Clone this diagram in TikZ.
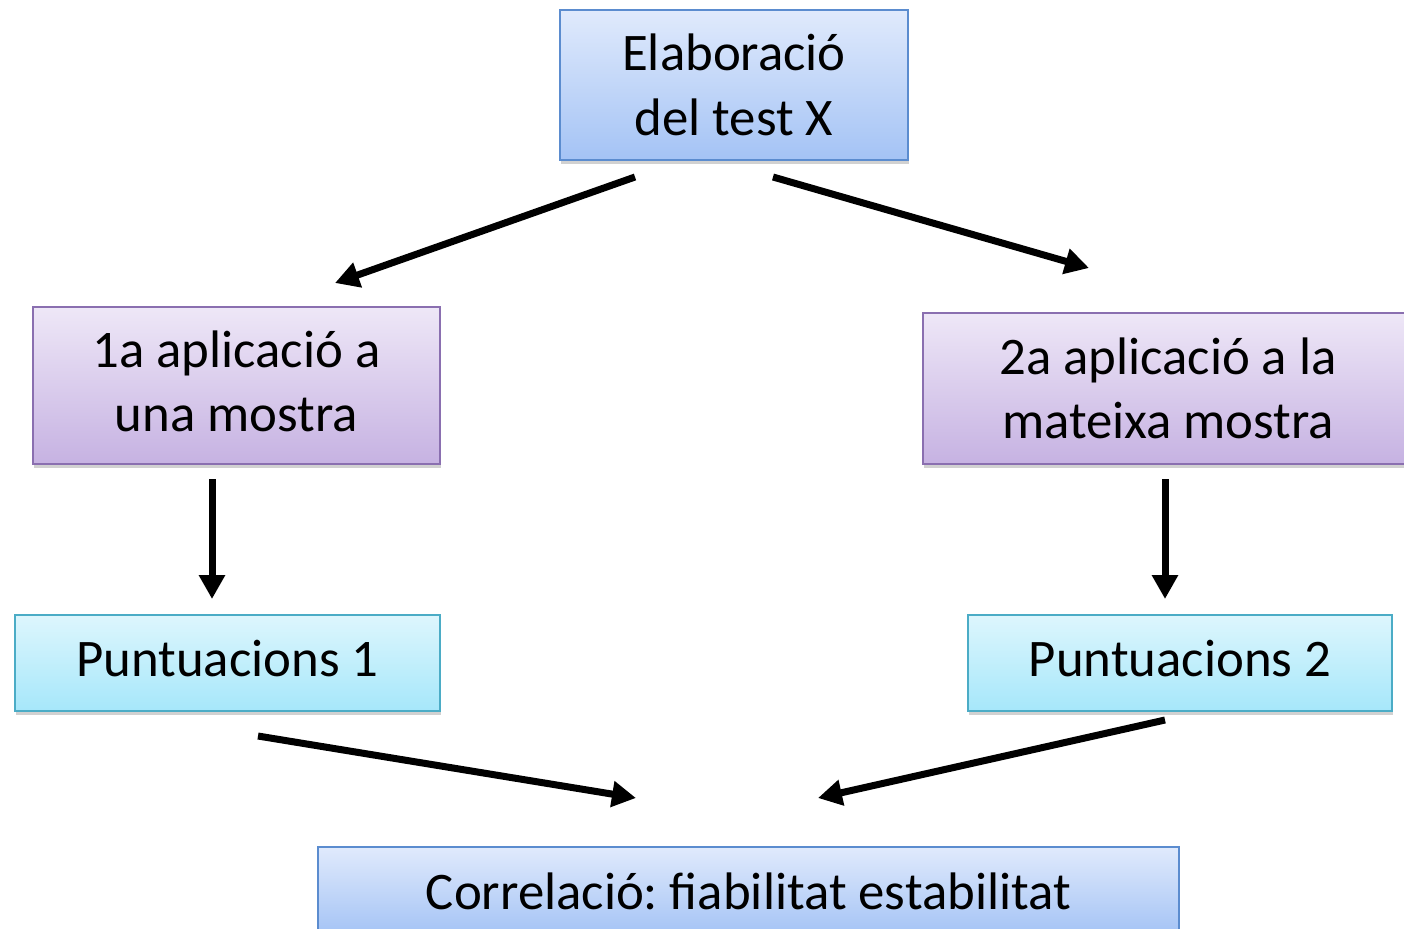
\documentclass[tikz,border=0pt]{standalone}
\usepackage{fontspec}
\setmainfont{Carlito}
\frenchspacing
\usetikzlibrary{arrows.meta,shadows}
\definecolor{bluetop}{HTML}{E0EAFC}
\definecolor{bluebot}{HTML}{A4C3F5}
\definecolor{blueline}{HTML}{5B8CCF}
\definecolor{purtop}{HTML}{EEE7F7}
\definecolor{purbot}{HTML}{C6B2E2}
\definecolor{purline}{HTML}{8A6FB0}
\definecolor{cyantop}{HTML}{DDF6FD}
\definecolor{cyanbot}{HTML}{A6E7FA}
\definecolor{cyanline}{HTML}{4BACC6}
\tikzset{
  box/.style={rectangle, inner sep=0pt, align=center, line width=0.8pt,
    font=\fontsize{26.4pt}{32.2pt}\selectfont,
    drop shadow={shadow xshift=0.5pt, shadow yshift=-2pt, fill=black!45, opacity=0.4}},
  bluebox/.style={box, draw=blueline, top color=bluetop, bottom color=bluebot},
  purbox/.style={box, draw=purline, top color=purtop, bottom color=purbot},
  cyanbox/.style={box, draw=cyanline, top color=cyantop, bottom color=cyanbot},
  raised/.style={text depth=4.5pt},
  arr/.style={line width=3.5pt, -{Triangle[length=12pt,width=12.5pt]}}
}
\begin{document}
\begin{tikzpicture}[x=0.5pt,y=-0.5pt]
\clip (0,0) rectangle (1404,928);
\fill[white] (0,0) rectangle (1404,928);
\node[bluebox, minimum width=174pt, minimum height=75pt] (top) at (734,85) {Elaboració\\del test X};
\node[purbox, raised, minimum width=203.5pt, minimum height=78.5pt] (app1) at (236.5,385.5) {1a aplicació a\\una mostra};
\node[purbox, minimum width=245pt, minimum height=75.5pt] (app2) at (1168,388.5) {2a aplicació a la\\mateixa mostra};
\node[cyanbox, raised, minimum width=212.5pt, minimum height=48pt] (p1) at (227.5,663) {Puntuacions 1};
\node[cyanbox, raised, minimum width=212pt, minimum height=48pt] (p2) at (1180,663) {Puntuacions 2};
\node[bluebox, minimum width=430.5pt, minimum height=44pt] (corr) at (748.5,891) {Correlació: fiabilitat estabilitat};
\coordinate (a1s) at (635,177);
\coordinate (a1e) at (335,283);
\coordinate (a2s) at (773,177);
\coordinate (a2e) at (1089,268);
\coordinate (a3s) at (212,479);
\coordinate (a3e) at (212,599);
\coordinate (a4s) at (1165,479);
\coordinate (a4e) at (1165,599);
\coordinate (a5s) at (258,736);
\coordinate (a5e) at (636,798);
\coordinate (a6s) at (1165,720);
\coordinate (a6e) at (818,798);
\draw[arr] (a1s) -- (a1e);
\draw[arr] (a2s) -- (a2e);
\draw[arr] (a3s) -- (a3e);
\draw[arr] (a4s) -- (a4e);
\draw[arr] (a5s) -- (a5e);
\draw[arr] (a6s) -- (a6e);
\end{tikzpicture}
\end{document}
